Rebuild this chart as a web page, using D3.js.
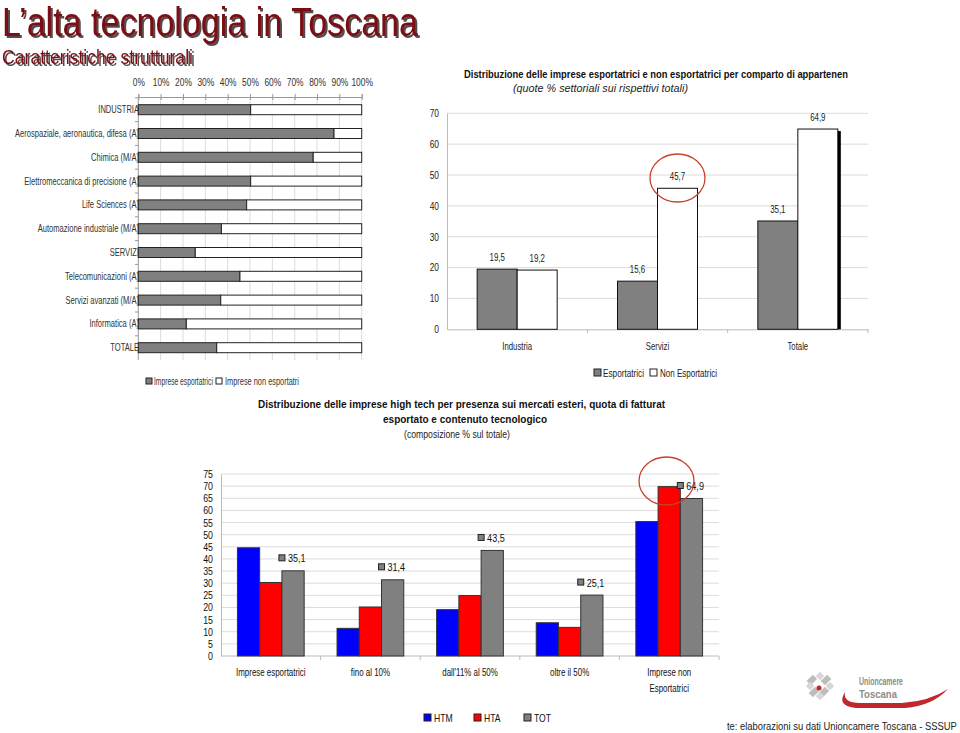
<!DOCTYPE html>
<html><head><meta charset="utf-8">
<script src="https://cdn.jsdelivr.net/npm/d3@7/dist/d3.min.js"></script>
<style>body{margin:0;background:#fff}svg{display:block;font-family:"Liberation Sans",Arial,sans-serif}</style>
</head><body><svg id="c" width="960" height="733"></svg>
<script>
// ---------- DATA ----------
const c1Categories = ["INDUSTRIA","Aerospaziale, aeronautica, difesa (A)","Chimica (M/A)","Elettromeccanica di precisione (A)","Life Sciences (A)","Automazione industriale (M/A)","SERVIZI","Telecomunicazioni (A)","Servizi avanzati (M/A)","Informatica (A)","TOTALE"];
const c1Export    = [50.3, 87.6, 78.3, 50.3, 48.5, 37.2, 25.5, 45.5, 36.9, 21.5, 35.1];
const c1NonExport = [49.7, 12.4, 21.7, 49.7, 51.5, 62.8, 74.5, 54.5, 63.1, 78.5, 64.9];
const c1Ticks = [0,10,20,30,40,50,60,70,80,90,100];
const c1Series = ["Imprese esportatrici","Imprese non esportatri"];

const c2Categories = ["Industria","Servizi","Totale"];
const c2Export    = [19.5, 15.6, 35.1];
const c2NonExport = [19.2, 45.7, 64.9];
const c2Ticks = [0,10,20,30,40,50,60,70];
const c2Series = ["Esportatrici","Non Esportatrici"];

const c3Categories = [["Imprese esportatrici"],["fino al 10%"],["dall'11% al 50%"],["oltre il 50%"],["Imprese non","Esportatrici"]];
const c3HTM = [44.6, 11.4, 19.1, 13.7, 55.4];
const c3HTA = [30.3, 20.2, 24.9, 11.8, 69.8];
const c3TOT = [35.1, 31.4, 43.5, 25.1, 64.9];
const c3Ticks = [0,5,10,15,20,25,30,35,40,45,50,55,60,65,70,75];
const c3Series = ["HTM","HTA","TOT"];

// ---------- HELPERS ----------
const svg = d3.select("#c");
const fmt = v => String(v).replace(".", ",");
function squeeze(sel, f){ sel.each(function(){ const w=this.getComputedTextLength(); this.setAttribute("textLength", (w*f).toFixed(1)); this.setAttribute("lengthAdjust","spacingAndGlyphs"); }); return sel; }
function fitW(sel, w){ sel.attr("textLength", w).attr("lengthAdjust","spacingAndGlyphs"); return sel; }
function scaleTo(sel, x, y, w){ const n=sel.node(); const nat=n.getComputedTextLength(); sel.attr("x",0).attr("y",0).attr("transform",`translate(${x},${y}) scale(${(w/nat).toFixed(4)},1)`); return sel; }
const GRID = "#dcdcdc";

svg.append("rect").attr("width",960).attr("height",733).attr("fill","#fff");
const defs = svg.append("defs");
const flt = defs.append("filter").attr("id","sh").attr("x","-5%").attr("y","-20%").attr("width","110%").attr("height","150%");
flt.append("feDropShadow").attr("dx",2).attr("dy",2).attr("stdDeviation",0.4).attr("flood-color","#1a0808").attr("flood-opacity",0.75);

// ---------- TITLES ----------
const titleCol = "#7a0c12";
[["L\u2019alta tecnologia in Toscana",40,36,416],["Caratteristiche strutturali",21,64,191]].forEach(([t,fs,y,w])=>{
  fitW(svg.append("text").attr("x",2).attr("y",y).attr("font-size",fs).attr("fill",titleCol).attr("filter","url(#sh)").text(t),w);
});

// ---------- CHART 1 ----------
{
  const x = d3.scaleLinear().domain([0,100]).range([138.3,361.7]);
  const y = d3.scaleBand().domain(c1Categories).range([97.8,359.6]).paddingInner(0.58).paddingOuter(0.29);
  const g = svg.append("g");
  g.selectAll(".g1").data(c1Ticks.slice(1)).join("line")
    .attr("x1",d=>x(d)).attr("x2",d=>x(d)).attr("y1",97).attr("y2",360).attr("stroke",GRID);
  const ax = g.append("g").attr("transform","translate(0,97)").call(d3.axisTop(x).tickValues(c1Ticks).tickSize(3).tickFormat(d=>d+"%"));
  ax.select(".domain").attr("stroke","#999");
  ax.selectAll(".tick line").attr("stroke","#999").attr("y2",3).attr("y1",-3);
  ax.selectAll("text").attr("font-size",10).attr("fill","#333").attr("y",-11).attr("font-family","Liberation Sans");
  squeeze(ax.selectAll("text"),0.84);
  const lbl = g.selectAll(".l1").data(c1Categories).join("text")
    .attr("x",139).attr("y",d=>y(d)+y.bandwidth()/2+3.5).attr("text-anchor","end").attr("font-size",10.5).attr("fill","#333").text(d=>d);
  squeeze(lbl,0.72);
  g.append("line").attr("x1",138.3).attr("x2",138.3).attr("y1",97).attr("y2",360).attr("stroke","#999");
  const stepY = y.step();
  g.selectAll(".lt").data(c1Categories).join("line")
    .attr("x1",135).attr("x2",138.3).attr("y1",d=>y(d)-y.paddingOuter()*stepY).attr("y2",d=>y(d)-y.paddingOuter()*stepY).attr("stroke","#999");
  g.selectAll(".b1").data(c1Categories).join("rect")
    .attr("x",x(0)).attr("y",d=>y(d)).attr("width",(d,i)=>x(c1Export[i])-x(0)).attr("height",y.bandwidth())
    .attr("fill","#808080").attr("stroke","#222").attr("stroke-width",1);
  g.selectAll(".b2").data(c1Categories).join("rect")
    .attr("x",(d,i)=>x(c1Export[i])).attr("y",d=>y(d)).attr("width",(d,i)=>x(c1Export[i]+c1NonExport[i])-x(c1Export[i])).attr("height",y.bandwidth())
    .attr("fill","#fff").attr("stroke","#222").attr("stroke-width",1);
  const lg = g.append("g");
  lg.append("rect").attr("x",146).attr("y",378).attr("width",6).attr("height",6).attr("fill","#808080").attr("stroke","#222");
  scaleTo(lg.append("text").attr("font-size",10.5).attr("fill","#333").text(c1Series[0]),154,385,59);
  lg.append("rect").attr("x",216).attr("y",378).attr("width",6).attr("height",6).attr("fill","#fff").attr("stroke","#222");
  scaleTo(lg.append("text").attr("font-size",10.5).attr("fill","#333").text(c1Series[1]),225,385,74);
}

// ---------- CHART 2 ----------
{
  const x = d3.scaleBand().domain(c2Categories).range([447,868]).paddingInner(0.43).paddingOuter(0.215);
  const xs = d3.scaleBand().domain([0,1]).range([0,x.bandwidth()]);
  const y = d3.scaleLinear().domain([0,70]).range([329.3,113.3]);
  const g = svg.append("g");
  fitW(g.append("text").attr("x",464).attr("y",78).attr("font-size",10).attr("font-weight","bold").attr("fill","#111")
    .text("Distribuzione  delle imprese esportatrici e non esportatrici per comparto di appartenen"),384);
  fitW(g.append("text").attr("x",513).attr("y",92).attr("font-size",10).attr("font-style","italic").attr("fill","#222")
    .text("(quote % settoriali sui rispettivi totali)"),175);
  g.selectAll(".g2").data(c2Ticks.slice(1)).join("line")
    .attr("x1",447).attr("x2",868).attr("y1",d=>y(d)).attr("y2",d=>y(d)).attr("stroke",GRID);
  const ay = g.append("g").attr("transform","translate(447,0)").call(d3.axisLeft(y).tickValues(c2Ticks).tickSize(0).tickPadding(8));
  ay.select(".domain").attr("stroke","#bbb");
  ay.selectAll("text").attr("font-size",10.5).attr("fill","#222").attr("font-family","Liberation Sans");
  squeeze(ay.selectAll("text"),0.8);
  const ax = g.append("g").attr("transform","translate(0,329.3)").call(d3.axisBottom(x).tickSize(0).tickPadding(13));
  ax.select(".domain").attr("stroke","#bbb");
  ax.selectAll("text").attr("font-size",10.5).attr("fill","#222").attr("font-family","Liberation Sans");
  squeeze(ax.selectAll("text"),0.74);
  g.selectAll(".tk").data(c2Categories.map((d,i)=>447+(868-447)/3*(i+1))).join("line")
    .attr("x1",d=>d).attr("x2",d=>d).attr("y1",329.3).attr("y2",333).attr("stroke","#bbb");
  const series = [c2Export, c2NonExport];
  const fills = ["#808080","#fff"];
  series.forEach((arr,si)=>{
    g.selectAll(".s"+si).data(c2Categories).join("rect")
      .attr("x",d=>x(d)+xs(si)).attr("y",(d,i)=>y(arr[i])).attr("width",xs.bandwidth()).attr("height",(d,i)=>y(0)-y(arr[i]))
      .attr("fill",fills[si]).attr("stroke","#111").attr("stroke-width",1);
    const t = g.selectAll(".v"+si).data(c2Categories).join("text")
      .attr("x",d=>x(d)+xs(si)+xs.bandwidth()/2).attr("y",(d,i)=>y(arr[i])-8).attr("text-anchor","middle")
      .attr("font-size",10.5).attr("fill","#222").text((d,i)=>fmt(arr[i]));
    squeeze(t,0.75);
  });
  const lc = c2Categories[c2Categories.length-1];
  g.append("line").attr("x1",x(lc)+x.bandwidth()+1.5).attr("x2",x(lc)+x.bandwidth()+1.5)
    .attr("y1",y(c2NonExport[c2NonExport.length-1])+2).attr("y2",y(0)).attr("stroke","#000").attr("stroke-width",3);
  g.append("rect").attr("x",594).attr("y",369).attr("width",7).attr("height",7).attr("fill","#808080").attr("stroke","#222");
  fitW(g.append("text").attr("x",603).attr("y",377).attr("font-size",10.5).attr("fill","#222").text(c2Series[0]),41);
  g.append("rect").attr("x",650).attr("y",369).attr("width",7).attr("height",7).attr("fill","#fff").attr("stroke","#222");
  fitW(g.append("text").attr("x",660).attr("y",377).attr("font-size",10.5).attr("fill","#222").text(c2Series[1]),57);
  g.append("ellipse").attr("cx",x("Servizi")+xs(1)+xs.bandwidth()/2).attr("cy",178).attr("rx",27.5).attr("ry",24)
    .attr("fill","none").attr("stroke","#c8402c").attr("stroke-width",1.3);
}

// ---------- CHART 3 ----------
{
  const names = c3Categories.map(d=>d.join(" "));
  const x = d3.scaleBand().domain(names).range([221,719]).paddingInner(0.33).paddingOuter(0.165);
  const xs = d3.scaleBand().domain([0,1,2]).range([0,x.bandwidth()]);
  const y = d3.scaleLinear().domain([0,75]).range([656,474]);
  const g = svg.append("g");
  fitW(g.append("text").attr("x",258).attr("y",408).attr("font-size",11).attr("font-weight","bold").attr("fill","#111")
    .text("Distribuzione delle imprese high tech per presenza sui mercati esteri, quota di fatturat"),407);
  fitW(g.append("text").attr("x",383).attr("y",423).attr("font-size",11).attr("font-weight","bold").attr("fill","#111")
    .text("esportato e contenuto tecnologico"),164);
  fitW(g.append("text").attr("x",404).attr("y",438).attr("font-size",10.5).attr("fill","#222")
    .text("(composizione % sul totale)"),106);
  g.selectAll(".g3").data(c3Ticks.slice(1)).join("line")
    .attr("x1",221).attr("x2",719).attr("y1",d=>y(d)).attr("y2",d=>y(d)).attr("stroke",GRID);
  const ay = g.append("g").attr("transform","translate(221,0)").call(d3.axisLeft(y).tickValues(c3Ticks).tickSize(0).tickPadding(8));
  ay.select(".domain").attr("stroke","#bbb");
  ay.selectAll("text").attr("font-size",11).attr("fill","#111").attr("font-family","Liberation Sans");
  squeeze(ay.selectAll("text"),0.8);
  g.append("line").attr("x1",221).attr("x2",719).attr("y1",656).attr("y2",656).attr("stroke","#bbb");
  g.selectAll(".tk").data(d3.range(1,6).map(i=>221+x.step()*i)).join("line")
    .attr("x1",d=>d).attr("x2",d=>d).attr("y1",656).attr("y2",660).attr("stroke","#bbb");
  const cl = g.selectAll(".cl").data(c3Categories).join("text")
    .attr("x",(d,i)=>x(names[i])+x.bandwidth()/2).attr("y",676).attr("text-anchor","middle").attr("font-size",11).attr("fill","#111");
  cl.selectAll("tspan").data(d=>d).join("tspan").attr("x",function(){return this.parentNode.getAttribute("x");}).attr("dy",(d,i)=>i?16:0).text(d=>d);
  cl.selectAll("tspan").each(function(){ const w=this.getComputedTextLength(); this.setAttribute("textLength",(w*0.72).toFixed(1)); this.setAttribute("lengthAdjust","spacingAndGlyphs"); });
  const series = [c3HTM, c3HTA, c3TOT];
  const fills = ["#0000ff","#ff0000","#808080"];
  series.forEach((arr,si)=>{
    g.selectAll(".s"+si).data(names).join("rect")
      .attr("x",d=>x(d)+xs(si)).attr("y",(d,i)=>y(arr[i])).attr("width",xs.bandwidth()).attr("height",(d,i)=>y(0)-y(arr[i]))
      .attr("fill",fills[si]).attr("stroke","#333").attr("stroke-width",1);
  });
  g.selectAll(".lk").data(names).join("rect")
    .attr("x",d=>x(d)+xs(2)-3).attr("y",(d,i)=>y(c3TOT[i])-16).attr("width",6).attr("height",6)
    .attr("fill","#808080").attr("stroke","#222");
  const vt = g.selectAll(".vt").data(names).join("text")
    .attr("x",d=>x(d)+xs(2)+6).attr("y",(d,i)=>y(c3TOT[i])-8.5).attr("font-size",11).attr("fill","#111").text((d,i)=>fmt(c3TOT[i]));
  squeeze(vt,0.82);
  c3Series.forEach((s,i)=>{
    const lx = [424,474,524][i];
    g.append("rect").attr("x",lx).attr("y",714).attr("width",7).attr("height",7).attr("fill",fills[i]).attr("stroke","#222");
    squeeze(g.append("text").attr("x",lx+10).attr("y",722).attr("font-size",11).attr("fill","#111").text(s),0.78);
  });
  g.append("ellipse").attr("cx",666.5).attr("cy",481).attr("rx",27.5).attr("ry",24)
    .attr("fill","none").attr("stroke","#c8402c").attr("stroke-width",1.3);
}

// ---------- LOGO + SOURCE ----------
{
  const g = svg.append("g");
  const lg = g.append("g").attr("transform","translate(820,686) rotate(45)");
  [[-3,-13],[-3,4],[-13,-3],[4,-3]].forEach(([a,b])=>lg.append("rect").attr("x",a).attr("y",b).attr("width",6).attr("height",9).attr("fill","#bdbdbd"));
  [[-10,-10],[4,4],[-10,4],[4,-10]].forEach(([a,b])=>lg.append("rect").attr("x",a).attr("y",b).attr("width",6).attr("height",6).attr("fill","#d6d6d6"));
  g.append("circle").attr("cx",819).attr("cy",688).attr("r",2.5).attr("fill","#c0282d");
  scaleTo(g.append("text").attr("font-size",10.5).attr("font-weight","bold").attr("fill","#8c8c8c").text("Unioncamere"),859,685,44);
  scaleTo(g.append("text").attr("font-size",10.5).attr("font-weight","bold").attr("fill","#8c8c8c").text("Toscana"),859,698,38);
  g.append("path").attr("d","M845,692 Q836,706 856,708 L905,708 Q932,706 948,689 Q930,701 902,703 L860,703 Q843,703 845,692 Z").attr("fill","#c0282d");
  scaleTo(g.append("text").attr("font-size",11.5).attr("fill","#222")
    .text("te: elaborazioni su dati  Unioncamere Toscana - SSSUP"),727,730,230);
}
</script></body></html>
